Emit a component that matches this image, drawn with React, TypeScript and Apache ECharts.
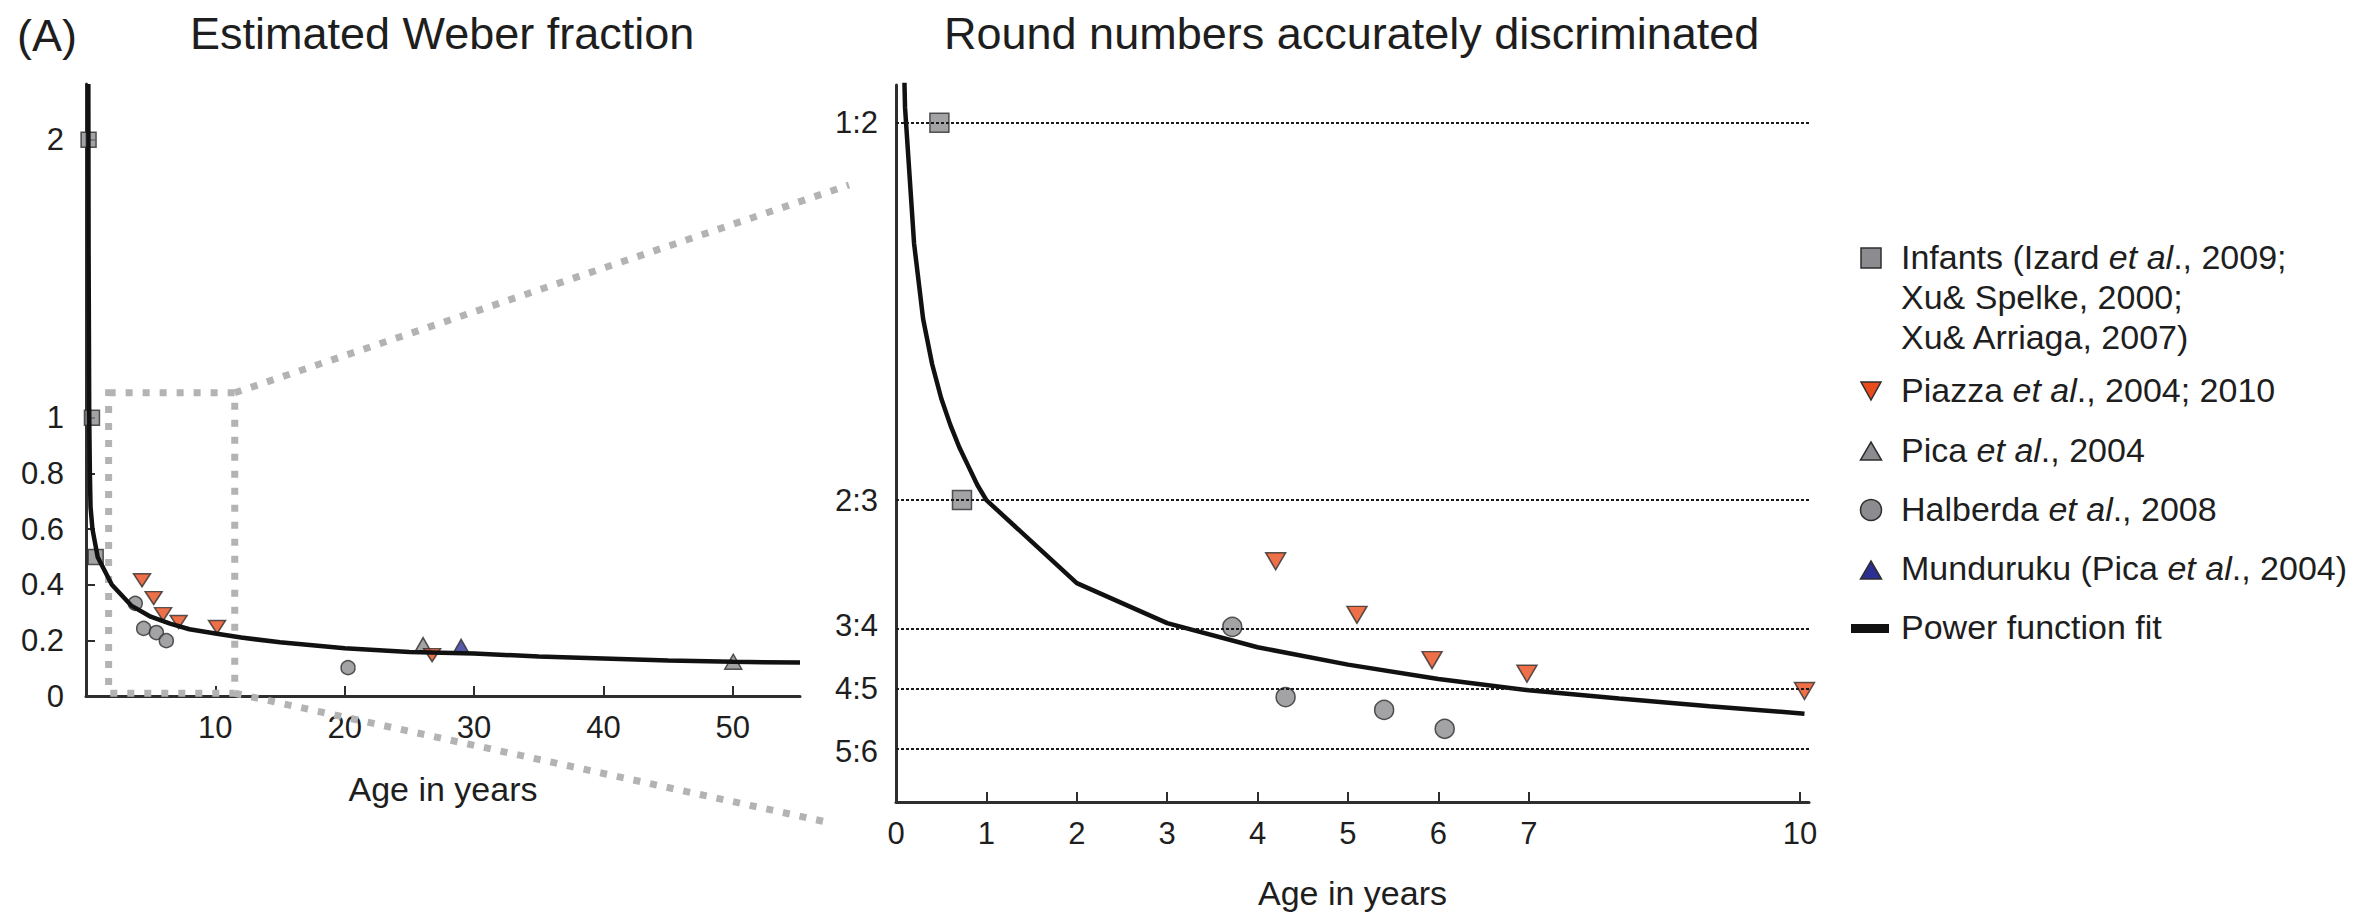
import React, { useEffect, useRef } from 'react';
import * as echarts from 'echarts';

const FONT = '"Liberation Sans", Arial, Helvetica, sans-serif';
const INK = '#1e1e1e';
const EDGE = '#2e2e2e';
const GRAY = '#8c8c90';
const RED = '#e84c1c';
const BLUE = '#2a2f91';
const DOT = '#b3b3b3';
const FIT = '#111111';

// ---------- Left panel: Estimated Weber fraction (age 0-55) ----------
const leftFitAge = [0.18, 0.2, 0.25, 0.3, 0.35, 0.5, 0.9, 2, 3.5, 5, 6.5, 8, 10, 12, 15, 20, 25, 30, 35, 40, 45, 50, 55.2];
const leftFitW = [2.2, 1.6, 1.0, 0.8, 0.68, 0.6, 0.5, 0.4, 0.325, 0.285, 0.26, 0.24, 0.225, 0.21, 0.193, 0.172, 0.158, 0.153, 0.142, 0.135, 0.128, 0.123, 0.12];

const leftInfantAge = [0.2, 0.46, 0.75];
const leftInfantW = [2.0, 1.0, 0.5];
const leftPiazzaAge = [4.33, 5.23, 5.96, 7.16, 10.13, 26.76];
const leftPiazzaW = [0.416, 0.352, 0.294, 0.266, 0.248, 0.147];
const leftHalberdaAge = [3.81, 4.46, 5.44, 6.21, 20.26];
const leftHalberdaW = [0.333, 0.243, 0.228, 0.199, 0.102];
const leftPicaAge = [26.06, 50.04];
const leftPicaW = [0.183, 0.123];
const leftMundurukuAge = [29.0];
const leftMundurukuW = [0.177];

const leftXTicks = [10, 20, 30, 40, 50];
const leftYLabels = [0, 0.2, 0.4, 0.6, 0.8, 1, 2];
const leftYTicks = [0.2, 0.4, 0.6, 0.8, 1, 2];

// zoom box (data coords of left panel)
const zoomBoxAge = [1.75, 11.5];
const zoomBoxW = [0.01, 1.09];
// where the dotted connectors end (towards the right panel)
const connectorEndX = [849, 831];
const connectorEndY = [185, 823];

// ---------- Right panel: Round numbers accurately discriminated (age 0-10) ----------
const rightFitAge = [0.08, 0.1, 0.2, 0.3, 0.4, 0.5, 0.6, 0.7, 0.8, 0.9, 1, 2, 3, 4, 5, 6, 7, 8, 9, 10.05];
const rightFitW = [1.12, 1.02, 0.84, 0.74, 0.68, 0.635, 0.6, 0.57, 0.545, 0.52, 0.5, 0.39, 0.337, 0.305, 0.282, 0.263, 0.248, 0.237, 0.227, 0.217];

const rightInfantAge = [0.48, 0.73];
const rightInfantW = [1.0, 0.5];
const rightPiazzaAge = [4.2, 5.1, 5.93, 6.98, 10.05];
const rightPiazzaW = [0.419, 0.348, 0.288, 0.27, 0.247];
const rightHalberdaAge = [3.72, 4.31, 5.4, 6.07];
const rightHalberdaW = [0.332, 0.239, 0.222, 0.197];

const rightXLabels = [0, 1, 2, 3, 4, 5, 6, 7, 10];
const rightXTicks = [1, 2, 3, 4, 5, 6, 7, 10];
const ratioLabels = ['1:2', '2:3', '3:4', '4:5', '5:6'];
const ratioW = [1, 0.5, 0.3333, 0.25, 0.1667];

const pairs = (xs: number[], ys: number[]) => xs.map((x, i) => [x, ys[i]]);

const tickLabel = { color: INK, fontSize: 31, fontFamily: FONT };
const axisLine = { show: true, onZero: false, lineStyle: { color: EDGE, width: 3 } };
const nameStyle = { color: INK, fontSize: 34, fontFamily: FONT };
const markerEdge = { borderColor: EDGE, borderWidth: 1.5 };

function buildOption(): any {
  return {
    animation: false,
    backgroundColor: '#ffffff',
    title: [
      { text: '(A)', left: 17, top: 12.5, padding: 0, textStyle: { fontSize: 45, fontWeight: 'normal', color: INK, fontFamily: FONT } },
      { text: 'Estimated Weber fraction', left: 190, top: 10.5, padding: 0, textStyle: { fontSize: 45, fontWeight: 'normal', color: INK, fontFamily: FONT } },
      { text: 'Round numbers accurately discriminated', left: 944, top: 10.5, padding: 0, textStyle: { fontSize: 45, fontWeight: 'normal', color: INK, fontFamily: FONT } },
    ],
    grid: [
      { left: 86, top: 84, width: 714, height: 612, outerBoundsMode: 'none' },
      { left: 896, top: 85, width: 913, height: 717, outerBoundsMode: 'none' },
    ],
    xAxis: [
      {
        gridIndex: 0, type: 'value', min: 0, max: 55.2,
        axisLine,
        axisTick: { show: true, inside: true, length: 10, customValues: leftXTicks, lineStyle: { color: EDGE, width: 2 } },
        axisLabel: { ...tickLabel, customValues: leftXTicks, margin: 16 },
        splitLine: { show: false },
        name: 'Age in years', nameLocation: 'middle', nameGap: 76, nameTextStyle: nameStyle,
      },
      {
        gridIndex: 1, type: 'value', min: 0, max: 10.1,
        axisLine,
        axisTick: { show: true, inside: true, length: 10, customValues: rightXTicks, lineStyle: { color: EDGE, width: 2 } },
        axisLabel: { ...tickLabel, customValues: rightXLabels, margin: 16 },
        splitLine: { show: false },
        name: 'Age in years', nameLocation: 'middle', nameGap: 74, nameTextStyle: nameStyle,
      },
    ],
    yAxis: [
      {
        gridIndex: 0, type: 'value', min: 0, max: 2.2,
        axisLine,
        axisTick: { show: true, inside: true, length: 9, customValues: leftYTicks, lineStyle: { color: EDGE, width: 2 } },
        axisLabel: { ...tickLabel, customValues: leftYLabels, margin: 22 },
        splitLine: { show: false },
      },
      {
        gridIndex: 1, type: 'value', min: 0.1, max: 1.05,
        axisLine,
        axisTick: { show: false },
        axisLabel: {
          ...tickLabel, customValues: ratioW, margin: 18,
          formatter: (v: number) => {
            const i = ratioW.findIndex((r) => Math.abs(r - v) < 1e-6);
            return i >= 0 ? ratioLabels[i] : '';
          },
        },
        splitLine: { show: false },
      },
    ],
    series: [
      {
        name: 'Power function fit', type: 'line', xAxisIndex: 0, yAxisIndex: 0,
        data: pairs(leftFitAge, leftFitW), symbol: 'none', silent: true, clip: true,
        lineStyle: { color: FIT, width: 4.5 },
        markArea: {
          silent: true,
          itemStyle: { color: 'rgba(0,0,0,0)', borderColor: DOT, borderWidth: 7, borderType: [7, 10] },
          data: [[{ coord: [zoomBoxAge[0], zoomBoxW[1]] }, { coord: [zoomBoxAge[1], zoomBoxW[0]] }]],
        },
      },
      {
        name: 'Infants', type: 'scatter', xAxisIndex: 0, yAxisIndex: 0, silent: true,
        data: pairs(leftInfantAge, leftInfantW), symbol: 'rect', symbolSize: 15,
        itemStyle: { color: GRAY, ...markerEdge },
      },
      {
        name: 'Halberda et al., 2008', type: 'scatter', xAxisIndex: 0, yAxisIndex: 0, silent: true,
        data: pairs(leftHalberdaAge, leftHalberdaW), symbol: 'circle', symbolSize: 14,
        itemStyle: { color: GRAY, ...markerEdge },
      },
      {
        name: 'Pica et al., 2004', type: 'scatter', xAxisIndex: 0, yAxisIndex: 0, silent: true,
        data: pairs(leftPicaAge, leftPicaW), symbol: 'triangle', symbolSize: [17, 15],
        itemStyle: { color: GRAY, ...markerEdge },
      },
      {
        name: 'Piazza et al., 2004; 2010', type: 'scatter', xAxisIndex: 0, yAxisIndex: 0, silent: true,
        data: pairs(leftPiazzaAge, leftPiazzaW), symbol: 'triangle', symbolRotate: 180, symbolSize: [17, 13],
        itemStyle: { color: RED, ...markerEdge },
      },
      {
        name: 'Munduruku (Pica et al., 2004)', type: 'scatter', xAxisIndex: 0, yAxisIndex: 0, silent: true,
        data: pairs(leftMundurukuAge, leftMundurukuW), symbol: 'triangle', symbolSize: [17, 15],
        itemStyle: { color: BLUE, ...markerEdge },
      },
      {
        name: 'Power function fit', type: 'line', xAxisIndex: 1, yAxisIndex: 1,
        data: pairs(rightFitAge, rightFitW), symbol: 'none', silent: true, clip: true,
        lineStyle: { color: FIT, width: 4.5 },
        markLine: {
          silent: true, symbol: ['none', 'none'], label: { show: false },
          lineStyle: { color: '#1a1a1a', width: 2, type: [3, 2] },
          data: ratioW.map((w) => ({ yAxis: w })),
        },
      },
      {
        name: 'Infants', type: 'scatter', xAxisIndex: 1, yAxisIndex: 1, silent: true,
        data: pairs(rightInfantAge, rightInfantW), symbol: 'rect', symbolSize: 19,
        itemStyle: { color: GRAY, ...markerEdge },
      },
      {
        name: 'Halberda et al., 2008', type: 'scatter', xAxisIndex: 1, yAxisIndex: 1, silent: true,
        data: pairs(rightHalberdaAge, rightHalberdaW), symbol: 'circle', symbolSize: 19,
        itemStyle: { color: GRAY, ...markerEdge },
      },
      {
        name: 'Piazza et al., 2004; 2010', type: 'scatter', xAxisIndex: 1, yAxisIndex: 1, silent: true,
        data: pairs(rightPiazzaAge, rightPiazzaW), symbol: 'triangle', symbolRotate: 180, symbolSize: [20, 17],
        itemStyle: { color: RED, ...markerEdge },
      },
    ],
  };
}

function legendGraphics(): any[] {
  const tx = 1901;
  const cx = 1871;
  const textBase = { fill: INK, fontSize: 34, fontFamily: FONT };
  const rich = { i: { fill: INK, fontSize: 34, fontFamily: FONT, fontStyle: 'italic', lineHeight: 40 } };
  const iconStyle = { stroke: EDGE, lineWidth: 1.5 };
  return [
    { type: 'rect', silent: true, shape: { x: cx - 10, y: 248, width: 20, height: 20 }, style: { fill: GRAY, ...iconStyle } },
    {
      type: 'text', silent: true, x: tx, y: 237,
      style: { ...textBase, text: 'Infants (Izard {i|et al}., 2009;\nXu& Spelke, 2000;\nXu& Arriaga, 2007)', lineHeight: 40, verticalAlign: 'top', align: 'left', rich },
    },
    { type: 'polygon', silent: true, shape: { points: [[cx - 10, 382], [cx + 10, 382], [cx, 400]] }, style: { fill: RED, ...iconStyle } },
    { type: 'text', silent: true, x: tx, y: 390, style: { ...textBase, text: 'Piazza {i|et al}., 2004; 2010', verticalAlign: 'middle', align: 'left', rich } },
    { type: 'polygon', silent: true, shape: { points: [[cx - 10.5, 460], [cx + 10.5, 460], [cx, 442]] }, style: { fill: GRAY, ...iconStyle } },
    { type: 'text', silent: true, x: tx, y: 450, style: { ...textBase, text: 'Pica {i|et al}., 2004', verticalAlign: 'middle', align: 'left', rich } },
    { type: 'circle', silent: true, shape: { cx, cy: 510, r: 10.5 }, style: { fill: GRAY, ...iconStyle } },
    { type: 'text', silent: true, x: tx, y: 509, style: { ...textBase, text: 'Halberda {i|et al}., 2008', verticalAlign: 'middle', align: 'left', rich } },
    { type: 'polygon', silent: true, shape: { points: [[cx - 10.5, 579], [cx + 10.5, 579], [cx, 561]] }, style: { fill: BLUE, ...iconStyle } },
    { type: 'text', silent: true, x: tx, y: 568, style: { ...textBase, text: 'Munduruku (Pica {i|et al}., 2004)', verticalAlign: 'middle', align: 'left', rich } },
    { type: 'rect', silent: true, shape: { x: 1851, y: 624, width: 38, height: 9 }, style: { fill: FIT } },
    { type: 'text', silent: true, x: tx, y: 627, style: { ...textBase, text: 'Power function fit', verticalAlign: 'middle', align: 'left' } },
  ];
}

export default function App() {
  const ref = useRef<HTMLDivElement>(null);
  useEffect(() => {
    document.body.style.margin = '0';
    document.body.style.overflow = 'hidden';
    const chart = echarts.init(ref.current as HTMLDivElement, null, { renderer: 'svg' });
    chart.setOption(buildOption());
    const topRight = chart.convertToPixel({ gridIndex: 0 } as any, [zoomBoxAge[1], zoomBoxW[1]]) as number[];
    const bottomRight = chart.convertToPixel({ gridIndex: 0 } as any, [zoomBoxAge[1], zoomBoxW[0]]) as number[];
    const connectorStyle = { stroke: DOT, lineWidth: 7, lineDash: [7, 10] };
    chart.setOption({
      graphic: [
        ...legendGraphics(),
        { type: 'line', silent: true, z: 1, shape: { x1: topRight[0], y1: topRight[1], x2: connectorEndX[0], y2: connectorEndY[0] }, style: connectorStyle },
        { type: 'line', silent: true, z: 1, shape: { x1: bottomRight[0], y1: bottomRight[1], x2: connectorEndX[1], y2: connectorEndY[1] }, style: connectorStyle },
      ],
    });
    return () => chart.dispose();
  }, []);
  return <div ref={ref} style={{ width: 2376, height: 913 }} />;
}
